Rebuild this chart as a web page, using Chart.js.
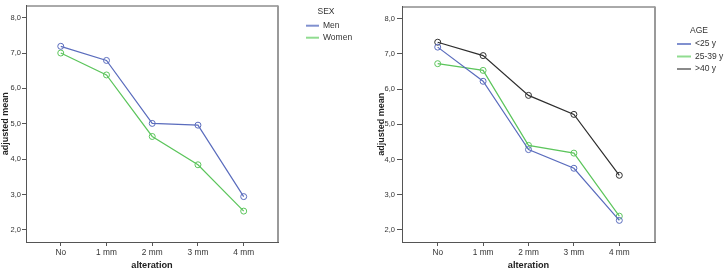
<!DOCTYPE html>
<html><head><meta charset="utf-8">
<script src="https://cdn.jsdelivr.net/npm/chart.js@4/dist/chart.umd.min.js"></script>
<style>
html,body{margin:0;padding:0;background:#fff;width:724px;height:272px;overflow:hidden}
canvas{position:absolute;top:0}
#c1{left:0}
#c2{left:362px}
</style></head><body>
<canvas id="c1" width="362" height="272"></canvas>
<canvas id="c2" width="362" height="272"></canvas>
<script>
const categories = ['No', '1 mm', '2 mm', '3 mm', '4 mm'];
const yTickValues = [2, 3, 4, 5, 6, 7, 8];
const xTitle = 'alteration';
const yTitle = 'adjusted mean';

const sexLegendTitle = 'SEX';
const sexLabels = ['Men', 'Women'];
const men = [7.19, 6.79, 5.01, 4.96, 2.94];
const women = [7.00, 6.38, 4.64, 3.84, 2.53];

const ageLegendTitle = 'AGE';
const ageLabels = ['<25 y', '25-39 y', '>40 y'];
const ageUnder25 = [7.19, 6.22, 4.28, 3.75, 2.27];
const age25to39 = [6.72, 6.53, 4.40, 4.18, 2.39];
const ageOver40 = [7.33, 6.95, 5.82, 5.28, 3.55];

const FAMILY = '"Liberation Sans", Arial, sans-serif';
const BLUE = '#5a6cbd', GREEN = '#5cc55c', BLACK = '#2e2e2e';

const frameLegend = {
  id: 'frameLegend',
  afterDraw(chart, args, o) {
    const {ctx, chartArea: a} = chart;
    ctx.save();
    ctx.lineWidth = 1; ctx.strokeStyle = '#555';
    ctx.beginPath(); ctx.moveTo(a.left, a.top + 0.5); ctx.lineTo(a.right, a.top + 0.5); ctx.stroke();
    ctx.strokeStyle = '#9a9a9a'; ctx.lineWidth = 2;
    ctx.beginPath(); ctx.moveTo(a.right, a.top); ctx.lineTo(a.right, a.bottom); ctx.stroke();
    ctx.font = '8.5px ' + FAMILY; ctx.fillStyle = '#333';
    ctx.textAlign = 'center'; ctx.textBaseline = 'middle';
    ctx.fillText(o.title, o.titleX, o.titleY);
    chart.data.datasets.forEach((ds, i) => {
      const y = o.y0 + i * o.dy;
      ctx.strokeStyle = o.lineColors[i]; ctx.lineWidth = 2;
      ctx.beginPath(); ctx.moveTo(o.lineX1, y); ctx.lineTo(o.lineX2, y); ctx.stroke();
      ctx.textAlign = 'left';
      ctx.fillText(ds.label, o.textX, y);
    });
    ctx.restore();
  }
};

function ds(label, values, color) {
  return {
    label, data: values.map((v, i) => ({x: i, y: v})),
    borderColor: color, borderWidth: 1.2, tension: 0, fill: false,
    pointRadius: 3, pointBorderWidth: 1, pointBorderColor: color,
    pointBackgroundColor: 'rgba(255,255,255,0)'
  };
}

function makeChart(id, datasets, cfg) {
  return new Chart(document.getElementById(id), {
    type: 'line',
    data: {datasets},
    plugins: [frameLegend],
    options: {
      responsive: false, animation: false, devicePixelRatio: 1,
      layout: {padding: {left: 0, top: 3, right: cfg.padRight, bottom: 0}},
      plugins: {legend: {display: false}, tooltip: {enabled: false}, frameLegend: cfg.legend},
      scales: {
        x: {
          type: 'linear', min: cfg.xMin, max: cfg.xMax,
          afterBuildTicks: s => { s.ticks = categories.map((c, i) => ({value: i})); },
          afterFit: s => { s.height = 30; },
          ticks: {callback: v => categories[v] ?? '', autoSkip: false, maxRotation: 0, padding: 2,
                  color: '#333', font: {size: 8.3, family: FAMILY}},
          grid: {drawOnChartArea: false, drawTicks: true, tickLength: 4, color: '#555', lineWidth: 1},
          border: {display: true, color: '#555', width: 1},
          title: {display: true, text: xTitle, color: '#222',
                  font: {size: 9.2, weight: 'bold', family: FAMILY}, padding: {top: 0, bottom: 1}}
        },
        y: {
          min: 1.656, max: 8.344,
          afterBuildTicks: s => { s.ticks = yTickValues.map(v => ({value: v})); },
          afterFit: s => { s.width = cfg.yWidth; },
          ticks: {callback: v => Number(v).toFixed(1).replace('.', ','), padding: cfg.yTickPad,
                  color: '#333', font: {size: 7.5, family: FAMILY}},
          grid: {drawOnChartArea: false, drawTicks: true, tickLength: cfg.yTickLen, color: '#555', lineWidth: 1},
          border: {display: true, color: '#555', width: 1},
          title: {display: true, text: yTitle, color: '#222',
                  font: {size: 9, weight: 'bold', family: FAMILY}, padding: {top: cfg.yTitlePad, bottom: 0}}
        }
      }
    }
  });
}

makeChart('c1', [ds(sexLabels[0], men, BLUE), ds(sexLabels[1], women, GREEN)], {
  padRight: 84, yWidth: 26, yTitlePad: 0.4, yTickLen: 4, yTickPad: 1, xMin: -0.76, xMax: 4.75,
  legend: {title: sexLegendTitle, titleX: 326, titleY: 12, lineX1: 306, lineX2: 319, textX: 323,
           y0: 25.7, dy: 12, lineColors: ['#8090cf', '#90dc90']}
});

makeChart('c2', [ds(ageLabels[0], ageUnder25, BLUE), ds(ageLabels[1], age25to39, GREEN), ds(ageLabels[2], ageOver40, BLACK)], {
  padRight: 69, yWidth: 40, yTitlePad: 14.4, yTickLen: 5, yTickPad: 2, xMin: -0.786, xMax: 4.786,
  legend: {title: ageLegendTitle, titleX: 337, titleY: 31, lineX1: 315, lineX2: 329, textX: 333,
           y0: 44, dy: 12.5, lineColors: ['#8090cf', '#90dc90', '#8a8a8a']}
});
</script>
</body></html>
